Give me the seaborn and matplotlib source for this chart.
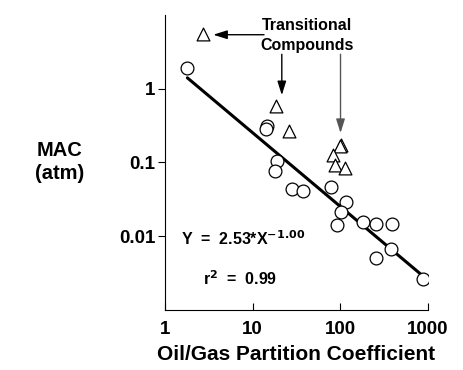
"""MAC vs oil/gas partition coefficient (Meyer-Overton style plot)."""

import matplotlib
matplotlib.use("Agg")
import matplotlib.pyplot as plt
import numpy as np
import pandas as pd
import seaborn as sns

# anaesthetics following the correlation (circles)
circle_x = [1.8, 14.4, 14.2, 18.8, 17.9, 27.8, 37.8, 77.5, 116, 103, 90.7, 183, 252, 391, 252, 374, 867]
circle_y = [1.94, 0.316, 0.285, 0.106, 0.076, 0.044, 0.041, 0.047, 0.029, 0.021, 0.014,
            0.0156, 0.0145, 0.0145, 0.0051, 0.0067, 0.0026]

# transitional compounds (triangles)
tri_x = [2.73, 18.4, 25.9, 102, 98, 83, 88, 113]
tri_y = [5.5, 0.58, 0.27, 0.175, 0.165, 0.127, 0.093, 0.084]

# fitted power law Y = a * X^b
fit_a = 2.53
fit_b = -1.00
fit_range = [1.8, 870]

x_ticks = [1, 10, 100, 1000]
y_ticks = [0.01, 0.1, 1]
y_tick_labels = ["0.01", "0.1", "1"]

sns.set_theme(style="ticks")
plt.rcParams["font.family"] = ["Liberation Sans", "DejaVu Sans"]
plt.rcParams["font.weight"] = "bold"
for key in ("text.color", "axes.labelcolor", "xtick.color", "ytick.color", "axes.edgecolor"):
    plt.rcParams[key] = "black"

df = pd.DataFrame({
    "x": circle_x + tri_x,
    "y": circle_y + tri_y,
    "kind": ["normal"] * len(circle_x) + ["transitional"] * len(tri_x),
})

fig = plt.figure(figsize=(4.64, 3.70), dpi=100)
ax = fig.add_axes([0.3556, 0.1622, 0.5668, 0.7973])

fit_x = np.array(fit_range)
fit_df = pd.DataFrame({"x": fit_x, "y": fit_a * fit_x ** fit_b})
sns.lineplot(data=fit_df, x="x", y="y", color="black", linewidth=2.2, ax=ax)

for kind, marker in [("normal", "o"), ("transitional", "^")]:
    sub = df[df["kind"] == kind]
    ax.scatter(sub["x"], sub["y"], s=85, marker=marker, facecolors="white",
               edgecolors="black", linewidths=0.9, zorder=3)

ax.set_xscale("log")
ax.set_yscale("log")
ax.set_xlim(1, 1000)
ax.set_ylim(0.001, 10)
ax.set_xticks(x_ticks)
ax.set_xticklabels([str(t) for t in x_ticks])
ax.set_yticks(y_ticks)
ax.set_yticklabels(y_tick_labels)
ax.minorticks_off()
ax.tick_params(axis="x", direction="in", length=5, width=0.8, labelsize=13.5, pad=8)
ax.tick_params(axis="y", direction="out", length=5, width=0.8, labelsize=13.5, pad=2)
for lab in ax.get_xticklabels() + ax.get_yticklabels():
    lab.set_fontweight("bold")
sns.despine(ax=ax)
for sp in ("left", "bottom"):
    ax.spines[sp].set_linewidth(0.8)

ax.set_xlabel("Oil/Gas Partition Coefficient", fontsize=15, fontweight="bold", labelpad=5)
ax.set_ylabel("")
fig.text(60 / 464, 1 - 162 / 370, "MAC\n(atm)", ha="center", va="center",
         fontsize=14.5, fontweight="bold", linespacing=1.3)

ax.text(0.06, 0.22, r"Y  =  2.53*X$^{\mathbf{-1.00}}$", transform=ax.transAxes,
        fontsize=11.5, fontweight="bold")
ax.text(0.145, 0.085, r"r$^{\mathbf{2}}$  =  0.99", transform=ax.transAxes,
        fontsize=11.5, fontweight="bold")

ax.text(0.54, 0.93, "Transitional\nCompounds", transform=ax.transAxes, ha="center",
        va="center", fontsize=11.5, fontweight="bold", linespacing=1.4)

arrow = dict(arrowstyle="-|>,head_length=0.7,head_width=0.22", color="black", lw=1.0)
ax.annotate("", xy=(3.3, 5.4), xytext=(14.5, 5.4), arrowprops=arrow)
ax.annotate("", xy=(21.5, 0.75), xytext=(21.5, 3.2), arrowprops=arrow)
ax.annotate("", xy=(100.5, 0.23), xytext=(100.5, 3.2),
            arrowprops=dict(arrow, color="#555555"))

fig.savefig("out.png", dpi=100)
